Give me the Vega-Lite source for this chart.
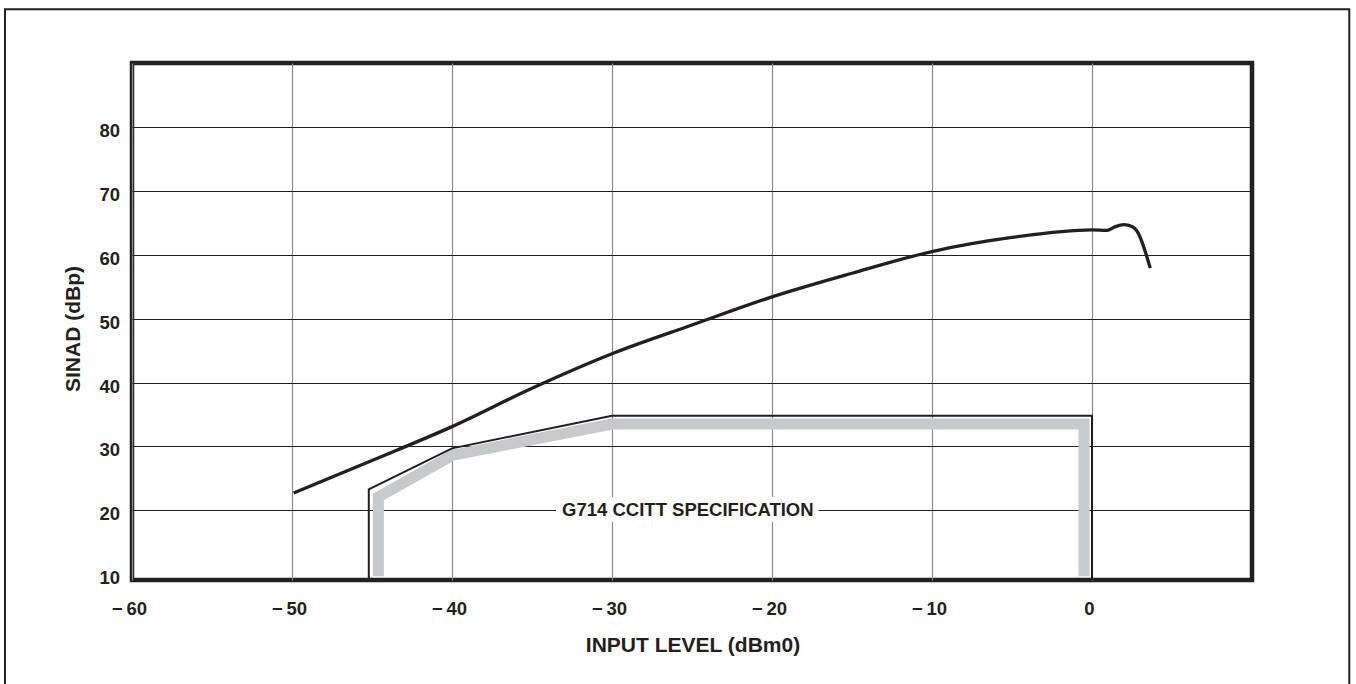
{
  "$schema": "https://vega.github.io/schema/vega-lite/v6.json",
  "width": 1120,
  "height": 517,
  "autosize": {"type": "none"},
  "padding": {"left": 132, "top": 63, "right": 104, "bottom": 104},
  "background": "white",
  "config": {
    "view": {"stroke": "#231f20", "strokeWidth": 4.5},
    "font": "Liberation Sans",
    "axis": {
      "domain": false,
      "ticks": false,
      "tickSize": 0,
      "grid": true,
      "labelFlush": false,
      "labelFont": "Liberation Sans",
      "labelFontWeight": "bold",
      "labelFontSize": 18.5,
      "labelColor": "#231f20",
      "titleFont": "Liberation Sans",
      "titleFontWeight": "bold",
      "titleFontSize": 21,
      "titleColor": "#231f20"
    }
  },
  "datasets": {
    "curve": [
      {"level": -49.9, "sinad": 22.7},
      {"level": -45, "sinad": 27.8},
      {"level": -40, "sinad": 33.1},
      {"level": -35, "sinad": 39.1},
      {"level": -30, "sinad": 44.5},
      {"level": -25, "sinad": 49.0},
      {"level": -20, "sinad": 53.4},
      {"level": -15, "sinad": 57.1},
      {"level": -10, "sinad": 60.5},
      {"level": -5, "sinad": 62.7},
      {"level": 0, "sinad": 63.9},
      {"level": 0.94, "sinad": 63.8},
      {"level": 1.46, "sinad": 64.4},
      {"level": 1.98, "sinad": 64.7},
      {"level": 2.5, "sinad": 64.4},
      {"level": 2.81, "sinad": 63.7},
      {"level": 3.64, "sinad": 57.9}
    ],
    "specBlack": [
      {"seq": 1, "level": -45.2, "sinad": 9.1},
      {"seq": 2, "level": -45.2, "sinad": 23.3},
      {"seq": 3, "level": -40, "sinad": 29.7},
      {"seq": 4, "level": -30, "sinad": 34.8},
      {"seq": 5, "level": 0, "sinad": 34.8},
      {"seq": 6, "level": 0, "sinad": 9.1}
    ],
    "specGray": [
      {"seq": 1, "level": -44.6, "sinad": 9.7},
      {"seq": 2, "level": -44.6, "sinad": 22.1},
      {"seq": 3, "level": -40, "sinad": 28.6},
      {"seq": 4, "level": -30, "sinad": 33.5},
      {"seq": 5, "level": -0.5, "sinad": 33.5},
      {"seq": 6, "level": -0.5, "sinad": 9.7}
    ],
    "label": [
      {"text": "G714 CCITT SPECIFICATION", "level": -25.26, "sinad": 20, "level2": -17.1, "level0": -33.5, "sinadTop": 22.1, "sinadBottom": 18.2}
    ],
    "frame": [
      {"level": -67.94, "level2": 16.08, "sinad": 98.4, "sinad2": -8.1}
    ]
  },
  "encoding": {
    "x": {
      "field": "level",
      "type": "quantitative",
      "scale": {"domain": [-60, 10], "nice": false, "zero": false},
      "axis": {
        "title": "INPUT LEVEL (dBm0)",
        "values": [-60, -50, -40, -30, -20, -10, 0],
        "labelExpr": "datum.value < 0 ? '−\u2009' + abs(datum.value) : datum.label",
        "gridColor": "#8a8a8a",
        "gridWidth": 1.2,
        "labelPadding": 19,
        "labelOffset": -3,
        "titleX": 560.5,
        "titleY": 71.5,
        "titleBaseline": "alphabetic"
      }
    },
    "y": {
      "field": "sinad",
      "type": "quantitative",
      "scale": {"domain": [9.1, 90], "nice": false, "zero": false},
      "axis": {
        "title": "SINAD (dBp)",
        "values": [10, 20, 30, 40, 50, 60, 70, 80],
        "gridColor": "#231f20",
        "gridWidth": 1,
        "gridOpacity": {"condition": {"test": "datum.value == 10", "value": 0}, "value": 1},
        "labelPadding": 12.5,
        "labelOffset": 3.5,
        "titleX": -53,
        "titleY": 265.5,
        "titleAngle": -90,
        "titleBaseline": "alphabetic"
      }
    }
  },
  "layer": [
    {
      "data": {"name": "frame"},
      "mark": {"type": "rect", "filled": false, "fill": null, "stroke": "#231f20", "strokeWidth": 2, "clip": false},
      "encoding": {
        "x2": {"field": "level2"},
        "y2": {"field": "sinad2"}
      }
    },
    {
      "data": {"name": "specGray"},
      "mark": {"type": "line", "stroke": "#c8c9cb", "strokeWidth": 11, "strokeJoin": "miter", "strokeCap": "butt"},
      "encoding": {"order": {"field": "seq"}}
    },
    {
      "data": {"name": "specBlack"},
      "mark": {"type": "line", "stroke": "#231f20", "strokeWidth": 2, "strokeJoin": "miter", "strokeCap": "butt"},
      "encoding": {"order": {"field": "seq"}}
    },
    {
      "data": {"name": "curve"},
      "mark": {"type": "line", "stroke": "#231f20", "strokeWidth": 3.3, "interpolate": "monotone", "strokeCap": "butt"},
      "encoding": {}
    },
    {
      "data": {"name": "label"},
      "mark": {"type": "rect", "fill": "white", "stroke": null},
      "encoding": {
        "x": {"field": "level0", "type": "quantitative"},
        "x2": {"field": "level2"},
        "y": {"field": "sinadTop", "type": "quantitative"},
        "y2": {"field": "sinadBottom"}
      }
    },
    {
      "data": {"name": "label"},
      "mark": {"type": "text", "font": "Liberation Sans", "fontWeight": "bold", "fontSize": 18.5, "color": "#231f20", "align": "center", "baseline": "middle"},
      "encoding": {"text": {"field": "text"}}
    }
  ]
}
